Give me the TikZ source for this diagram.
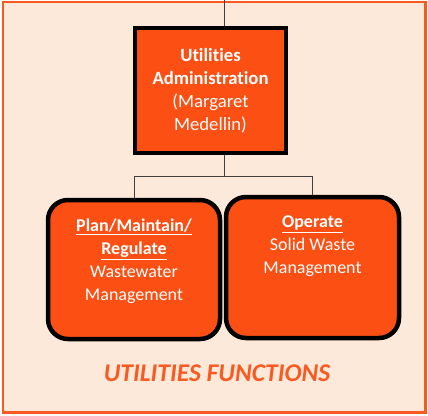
\documentclass[tikz,border=0pt]{standalone}
\usepackage{fontspec}
\setmainfont{Carlito}[Ligatures=NoCommon]
\definecolor{peach}{HTML}{FDE9DA}
\definecolor{myorange}{HTML}{FC4F14}
\definecolor{myframe}{HTML}{F95A22}
\begin{document}
\begin{tikzpicture}[%
                x=1pt, y=-1pt,
                myline/.style={draw=black!75, line width=1pt},
                myadmin/.style={shape=rectangle, draw=black, line width=4.5pt, fill=myorange,
                    minimum width=151pt, minimum height=125pt, align=center, text=white,
                    font=\fontsize{18.7}{23}\selectfont},
                mykid/.style={shape=rectangle, rounded corners=20pt, draw=black, line width=4.5pt,
                    fill=myorange, inner sep=0pt, text=white, font=\fontsize{18}{23}\selectfont,
                    execute at begin node={\begin{minipage}[c][#1][t]{165pt}\centering\vspace*{19pt}},
                    execute at end node={\end{minipage}}},
                mytitle/.style={text=myframe, font=\fontsize{25.5}{28}\selectfont\bfseries\itshape}
            ]
            \useasboundingbox (0,0) rectangle (428,415);
            \draw [draw=myframe, line width=2.5pt, fill=peach] (3,2) rectangle (425.5,412.5);
            % boxes
            \node [myadmin] (admin) at (210.5,90.5)
                {\textbf{Utilities}\\\textbf{Administration}\\(Margaret\\Medellin)};
            \node [mykid=139pt, minimum width=172pt] (plan) at (134,269.5)
                {\textbf{\underline{Plan/Maintain/}}\\\textbf{\underline{Regulate}}\\Wastewater\\Management};
            \node [mykid=141pt, minimum width=173pt] (operate) at (312.5,267.5)
                {\textbf{\underline{Operate}}\\Solid Waste\\Management};
            \node [mytitle] (title) at (217,373) {UTILITIES FUNCTIONS};
            % connectors
            \coordinate (top) at (224,0);
            \coordinate (bus) at (224,176);
            \draw [myline] (top) -- (top |- admin.north);
            \draw [myline] (admin.south -| top) -- (bus);
            \draw [myline] (plan.north |- bus) -- (operate.north |- bus);
            \foreach \mykid in {plan,operate}
                \draw [myline] (\mykid.north |- bus) -- (\mykid.north);
        \end{tikzpicture}
\end{document}
